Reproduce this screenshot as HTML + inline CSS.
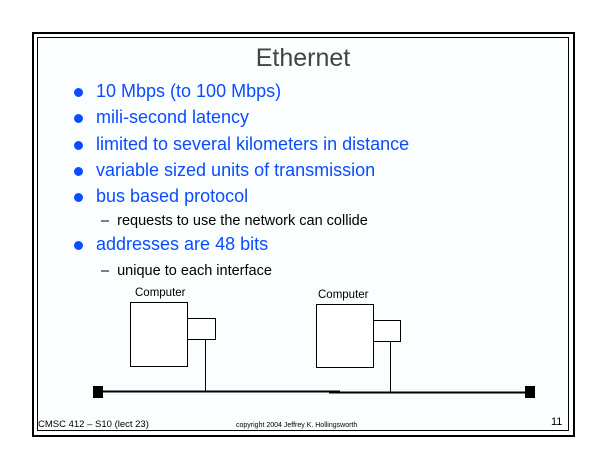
<!DOCTYPE html>
<html><head><style>
body{margin:0;width:605px;height:468px;background:#fff;position:relative;overflow:hidden;font-family:"Liberation Sans",sans-serif}
.a{position:absolute;white-space:nowrap}
.b{color:#0a4cff;font-size:18px}
.dot{position:absolute;width:9px;height:9px;border-radius:50%;background:#0a4cff}
.s{font-size:14.5px;color:#000}
</style></head><body>
<div class="a" style="left:32px;top:32px;width:539px;height:401px;border:2px solid #000"></div>
<div class="a" style="left:37px;top:37px;width:530px;height:392px;border:1px solid #000;background:#fbfeff"></div>
<div class="a" style="left:37px;width:532px;text-align:center;top:44px;font-size:25px;color:#444">Ethernet</div>
<div class="dot" style="left:74px;top:88px"></div><div class="a b" style="left:96px;top:81px">10 Mbps (to 100 Mbps)</div>
<div class="dot" style="left:74px;top:114px"></div><div class="a b" style="left:96px;top:107px">mili-second latency</div>
<div class="dot" style="left:74px;top:141px"></div><div class="a b" style="left:96px;top:134px">limited to several kilometers in distance</div>
<div class="dot" style="left:74px;top:167px"></div><div class="a b" style="left:96px;top:160px">variable sized units of transmission</div>
<div class="dot" style="left:74px;top:193px"></div><div class="a b" style="left:96px;top:186px">bus based protocol</div>
<div class="a s" style="left:101px;top:213px">–&nbsp; requests to use the network can collide</div>
<div class="dot" style="left:74px;top:241px"></div><div class="a b" style="left:96px;top:234px">addresses are 48 bits</div>
<div class="a s" style="left:101px;top:263px">–&nbsp; unique to each interface</div>
<svg class="a" style="left:0;top:0" width="605" height="468">
<g fill="none" stroke="#000" stroke-width="1">
<rect x="130.5" y="302.5" width="57" height="64" fill="#fff"/>
<rect x="187.5" y="318.5" width="28" height="21" fill="#fff"/>
<line x1="205.5" y1="340" x2="205.5" y2="392"/>
<rect x="316.5" y="304.5" width="57" height="63" fill="#fff"/>
<rect x="373.5" y="320.5" width="27" height="21" fill="#fff"/>
<line x1="390.5" y1="342" x2="390.5" y2="393"/>
<line x1="103" y1="391.5" x2="340" y2="391.5" stroke-width="2"/>
<line x1="329" y1="392.5" x2="525" y2="392.5" stroke-width="2"/>
</g>
<rect x="93" y="386" width="10" height="12" fill="#000"/>
<rect x="525" y="386" width="10" height="12" fill="#000"/>
</svg>
<div class="a" style="left:135px;top:287px;font-size:11.5px">Computer</div>
<div class="a" style="left:318px;top:289px;font-size:11.5px">Computer</div>
<div class="a" style="left:38px;top:419px;font-size:9.5px">CMSC 412 – S10 (lect 23)</div>
<div class="a" style="left:236px;top:422px;font-size:7px">copyright 2004 Jeffrey K. Hollingsworth</div>
<div class="a" style="left:551px;top:416px;font-size:11px">11</div>
</body></html>
